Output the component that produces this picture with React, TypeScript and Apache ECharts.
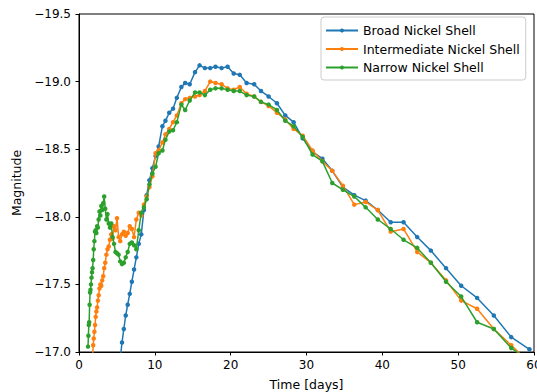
import React, { useEffect, useRef } from "react";
import * as echarts from "echarts";

const times = [
  1.19, 1.24, 1.29, 1.34, 1.40, 1.46, 1.52, 1.58, 1.65, 1.72,
  1.79, 1.87, 1.94, 2.03, 2.11, 2.20, 2.29, 2.39, 2.49, 2.59,
  2.70, 2.82, 2.94, 3.06, 3.19, 3.32, 3.46, 3.61, 3.76, 3.92,
  4.08, 4.25, 4.43, 4.62, 4.81, 5.01, 5.22, 5.44, 5.67, 5.91,
  6.16, 6.42, 6.69, 6.97, 7.26, 7.56, 7.88, 8.21, 8.56, 8.92,
  9.29, 9.68, 10.1, 10.5, 11.0, 11.4, 11.9, 12.4, 12.9, 13.5,
  14.0, 14.6, 15.3, 15.9, 16.6, 17.3, 18.0, 18.8, 19.6, 20.4,
  21.2, 22.1, 23.1, 24.0, 25.0, 26.1, 27.2, 28.3, 29.5, 30.8,
  32.1, 33.4, 34.8, 36.3, 37.8, 39.4, 41.1, 42.8, 44.6, 46.4,
  48.4, 50.4, 52.5, 54.7, 57.0, 59.4,
];

const broad = [
  null, null, null, null, null, null, null, null, null, null,
  null, null, null, null, null, null, null, null, null, null,
  null, null, null, null, null, null, null, null, null, null,
  null, null, null, null, null, null, null, -16.95, -17.07, -17.17,
  -17.27, -17.35, -17.43, -17.52, -17.61, -17.70, -17.80, -17.87, -18.05, -18.16,
  -18.27, -18.36, -18.45, -18.52, -18.67, -18.71, -18.77, -18.80, -18.88, -18.96,
  -18.99, -18.98, -19.07, -19.12, -19.10, -19.10, -19.11, -19.10, -19.11, -19.06,
  -19.05, -18.99, -18.98, -18.93, -18.89, -18.84, -18.75, -18.70, -18.58, -18.48,
  -18.43, -18.34, -18.22, -18.16, -18.12, -18.05, -17.96, -17.96, -17.85, -17.75,
  -17.62, -17.49, -17.40, -17.27, -17.11, -17.02,
];

const intermediate = [
  null, null, null, null, null, null, null, null, null, null,
  -16.96, -17.05, -17.10, -17.15, -17.20, -17.26, -17.30, -17.33, -17.38, -17.42,
  -17.47, -17.50, -17.49, -17.53, -17.56, -17.62, -17.66, -17.72, -17.76, -17.78,
  -17.83, -17.87, -17.84, -17.93, -17.90, -17.99, -17.85, -17.82, -17.87, -17.89,
  -17.86, -17.88, -17.93, -17.91, -17.85, -17.98, -18.03, -18.01, -18.09, -18.15,
  -18.22, -18.30, -18.47, -18.49, -18.55, -18.61, -18.65, -18.70, -18.75, -18.84,
  -18.87, -18.88, -18.89, -18.90, -18.93, -19.00, -18.99, -18.98, -18.95, -18.94,
  -18.96, -18.91, -18.89, -18.85, -18.82, -18.77, -18.72, -18.65, -18.60, -18.49,
  -18.41, -18.34, -18.23, -18.09, -18.11, -18.05, -17.89, -17.91, -17.74, -17.66,
  -17.53, -17.38, -17.32, -17.17, -17.05, -16.92,
];

const narrow = [
  -17.04, -17.12, -17.20, -17.22, -17.35, -17.44, -17.46, -17.50, -17.55, -17.59,
  -17.62, -17.68, -17.76, -17.82, -17.89, -17.90, -17.88, -17.93, -17.92, -17.98,
  -18.04, -18.01, -18.08, -18.05, -18.10, -18.15, -18.06, -17.98, -18.02, -17.95,
  -17.92, -17.95, -17.85, -17.80, -17.74, -17.73, -17.72, -17.67, -17.65, -17.66,
  -17.70, -17.74, -17.80, -17.81, -17.79, -17.76, -17.90, -18.03, -18.07, -18.13,
  -18.24, -18.32, -18.37, -18.47, -18.49, -18.57, -18.63, -18.64, -18.70, -18.83,
  -18.79, -18.86, -18.92, -18.92, -18.90, -18.94, -18.95, -18.95, -18.94, -18.93,
  -18.93, -18.90, -18.89, -18.85, -18.83, -18.79, -18.71, -18.67, -18.59, -18.46,
  -18.41, -18.25, -18.20, -18.15, -18.07, -17.98, -17.91, -17.83, -17.77, -17.66,
  -17.52, -17.41, -17.22, -17.17, -17.03, -16.93,
];

const seriesNames = ["Broad Nickel Shell", "Intermediate Nickel Shell", "Narrow Nickel Shell"];
const seriesColors = ["#1f77b4", "#ff7f0e", "#2ca02c"];

const toPairs = (vals: (number | null)[]) =>
  times.map((t, i) => [t, vals[i]]).filter((p) => p[1] !== null);

const FONT = "DejaVu Sans";

export default function App() {
  const ref = useRef<HTMLDivElement>(null);
  useEffect(() => {
    if (!ref.current) return;
    const chart = echarts.init(ref.current, null, { renderer: "svg" });
    const allData = [broad, intermediate, narrow];
    chart.setOption({
      animation: false,
      backgroundColor: "#ffffff",
      textStyle: { fontFamily: FONT },
      grid: {
        left: 79,
        right: 3,
        top: 14,
        bottom: 40,
        show: true,
        borderColor: "#000",
        borderWidth: 1,
        containLabel: false,
        outerBoundsMode: "none",
      },
      legend: {
        orient: "vertical",
        left: 321,
        top: 17,
        padding: [6, 6, 5, 4],
        itemGap: 3.5,
        itemWidth: 32,
        itemHeight: 5,
        backgroundColor: "rgba(255,255,255,0.8)",
        borderColor: "#cccccc",
        borderWidth: 1,
        borderRadius: 3,
        textStyle: { fontFamily: FONT, fontSize: 12.5, color: "#000", lineHeight: 15 },
        data: seriesNames,
      },
      xAxis: {
        type: "value",
        min: 0,
        max: 60,
        interval: 10,
        name: "Time [days]",
        nameLocation: "middle",
        nameGap: 26,
        nameTextStyle: { fontFamily: FONT, fontSize: 12.5, color: "#000" },
        axisLine: { show: true, lineStyle: { color: "#000", width: 1 } },
        axisTick: { show: true, inside: false, length: 3.5, lineStyle: { color: "#000" } },
        axisLabel: {
          fontFamily: FONT,
          fontSize: 12,
          color: "#000",
          margin: 7,
          showMinLabel: true,
          showMaxLabel: true,
        },
        splitLine: { show: false },
      },
      yAxis: {
        type: "value",
        min: -19.5,
        max: -17,
        interval: 0.5,
        inverse: true,
        name: "Magnitude",
        nameLocation: "middle",
        nameRotate: 90,
        nameGap: 53,
        nameTextStyle: { fontFamily: FONT, fontSize: 12.5, color: "#000" },
        axisLine: { show: true, lineStyle: { color: "#000", width: 1 } },
        axisTick: { show: true, inside: false, length: 3.5, lineStyle: { color: "#000" } },
        axisLabel: {
          fontFamily: FONT,
          fontSize: 12,
          color: "#000",
          margin: 8,
          formatter: (v: number) => v.toFixed(1).replace("-", "\u2212"),
        },
        splitLine: { show: false },
      },
      series: seriesNames.map((name, k) => ({
        name,
        type: "line",
        data: toPairs(allData[k]),
        clip: true,
        symbol: "circle",
        symbolSize: 4.5,
        showSymbol: true,
        itemStyle: { color: seriesColors[k] },
        lineStyle: { color: seriesColors[k], width: 1.5 },
        z: 2 + k,
      })),
    });
    return () => chart.dispose();
  }, []);
  return (
    <div
      ref={ref}
      style={{ position: "fixed", left: 0, top: 0, width: 537, height: 392, background: "#fff" }}
    />
  );
}
